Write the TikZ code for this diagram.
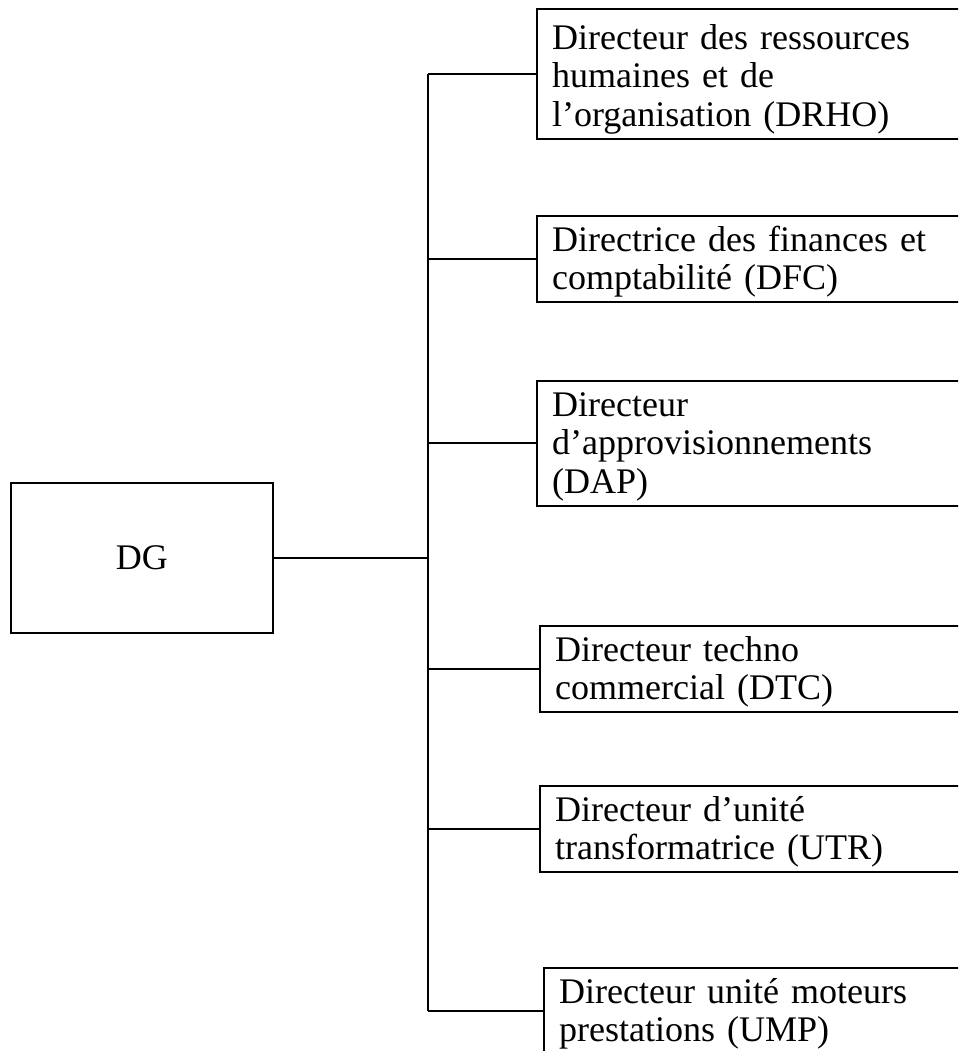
\documentclass[tikz,border=0pt]{standalone}
\usepackage{fontspec}
\setmainfont{Liberation Serif}
\newcommand{\cao}{\rule{0pt}{17.1pt}}
\begin{document}
\begin{tikzpicture}[x=0.02cm, y=-0.02cm,
		chu/.style={font=\fontsize{20.5}{21.9}\selectfont},
		hop/.style={chu, draw, line width=1.25pt, anchor=north west, align=left, text width=239pt, inner xsep=8.5pt, inner ysep=2.85pt},
		noi/.style={line width=1.1pt}]
		
		% Khung hình
		\useasboundingbox (0,0) rectangle (958,1051);
		\clip (0,0) rectangle (958,1051);
		
		% Hộp DG
		\node[chu, draw, line width=1.25pt, minimum width=149.1pt, minimum height=85.4pt] (DG) at (142,558) {DG};
		
		% Các hộp giám đốc
		\node[hop] (DRHO) at (536,8) {\rule{0pt}{20pt}Directeur des ressources\\humaines et de\\l’organisation (DRHO)};
		\node[hop] (DFC) at (536,215) {\cao Directrice des finances et\\comptabilité (DFC)};
		\node[hop] (DAP) at (536,380) {\cao Directeur\\d’approvisionnements\\(DAP)};
		\node[hop] (DTC) at (539,625) {\cao Directeur techno\\commercial (DTC)};
		\node[hop] (UTR) at (539,785) {\cao Directeur d’unité\\transformatrice (UTR)};
		\node[hop] (UMP) at (543,967) {\cao Directeur unité moteurs\\prestations (UMP)};
		
		% Đường nối
		\coordinate (tru) at (428,558);
		\draw[noi] (DG.east) -- (tru);
		\draw[noi] (DRHO.west -| tru) -- (UMP.west -| tru); % Trục dọc
		\foreach \h in {DRHO,DFC,DAP,DTC,UTR,UMP}
			\draw[noi] (\h.west -| tru) -- (\h.west);
		
\end{tikzpicture}
\end{document}
